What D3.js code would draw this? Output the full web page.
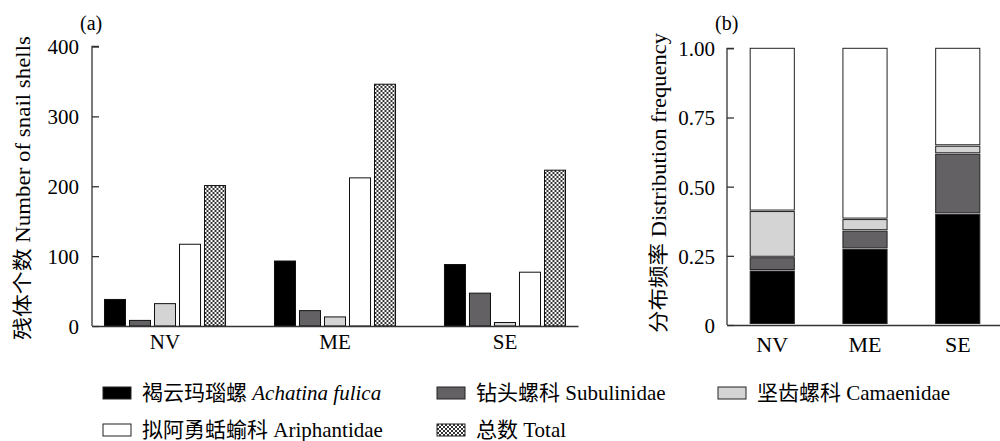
<!DOCTYPE html>
<html>
<head>
<meta charset="utf-8">
<script src="https://cdn.jsdelivr.net/npm/d3@7"></script>
<style>
  body { margin: 0; background: #fff; }
  text { font-family: "Liberation Serif", "Noto Sans CJK SC", serif; fill: #000; }
</style>
</head>
<body>
<div id="chart"></div>
<script>
// Sites (x categories)
const sites = ["NV", "ME", "SE"];
// Series (legend order)
const seriesKeys = ["fulica", "subulinidae", "camaenidae", "ariphantidae", "total"];
const seriesCn = ["褐云玛瑙螺 ", "钻头螺科 ", "坚齿螺科 ", "拟阿勇蛞蝓科 ", "总数 "];
const seriesEn = ["Achatina fulica", "Subulinidae", "Camaenidae", "Ariphantidae", "Total"];

// Panel (a): number of snail shells per site
const countFulica = [38, 93, 88];
const countSubulinidae = [8, 22, 47];
const countCamaenidae = [32, 13, 5];
const countAriphantidae = [117, 212, 77];
const countTotal = [201, 346, 223];

// Panel (b): distribution frequency of each family (stacked)
const freqFulica = [0.195, 0.273, 0.400];
const freqSubulinidae = [0.048, 0.066, 0.217];
const freqCamaenidae = [0.167, 0.042, 0.029];
const freqAriphantidae = [0.590, 0.619, 0.354];

const yTicksA = [0, 100, 200, 300, 400];
const yTicksB = [0, 0.25, 0.5, 0.75, 1];

const fills = {
    fulica: "#000000",
    subulinidae: "#636163",
    camaenidae: "#d4d4d4",
    ariphantidae: "#ffffff",
    total: "url(#checker)"
};

const W = 1000, H = 441;
const FS = 20;
const svg = d3.select("#chart").append("svg")
    .attr("width", W)
    .attr("height", H);

// Checker pattern for the total bars
const defs = svg.append("defs");
const pat = defs.append("pattern")
    .attr("id", "checker")
    .attr("patternUnits", "userSpaceOnUse")
    .attr("width", 4).attr("height", 4);
pat.append("rect").attr("width", 4).attr("height", 4).attr("fill", "#fff");
pat.append("rect").attr("width", 2).attr("height", 2).attr("fill", "#333");
pat.append("rect").attr("x", 2).attr("y", 2).attr("width", 2).attr("height", 2).attr("fill", "#333");

const axisColor = "#333";

// ---------- Panel (a) ----------
const countData = sites.map((s, i) => ({
    site: s,
    fulica: countFulica[i],
    subulinidae: countSubulinidae[i],
    camaenidae: countCamaenidae[i],
    ariphantidae: countAriphantidae[i],
    total: countTotal[i]
}));

const xA = d3.scaleBand().domain(sites).range([92, 578])
    .paddingInner(0.288).paddingOuter(0.0735);
const xAInner = d3.scaleBand().domain(seriesKeys).range([0, xA.bandwidth()])
    .paddingInner(0.16).paddingOuter(0);
const yA = d3.scaleLinear().domain([0, 400]).range([326, 46.5]);

const gA = svg.append("g");

gA.selectAll("g.group").data(countData).join("g")
    .attr("class", "group")
    .attr("transform", d => `translate(${xA(d.site)},0)`)
    .selectAll("rect")
    .data(d => seriesKeys.map(k => ({ key: k, value: d[k] })))
    .join("rect")
    .attr("x", d => xAInner(d.key))
    .attr("width", xAInner.bandwidth())
    .attr("y", d => yA(d.value))
    .attr("height", d => yA(0) - yA(d.value))
    .attr("fill", d => fills[d.key])
    .attr("stroke", "#111")
    .attr("stroke-width", 1);

// y axis (ticks point inward)
const axisA = gA.append("g")
    .attr("transform", "translate(92,0)")
    .call(d3.axisRight(yA).tickValues(yTicksA).tickSize(7).tickFormat(d3.format("d")));
axisA.select(".domain").attr("d", `M7,${yA(400)}H0V${yA(0)}`);
axisA.selectAll("path, line").attr("stroke", axisColor).attr("stroke-width", 1.3);
axisA.selectAll("text")
    .attr("x", -13).attr("dy", "0.35em")
    .attr("text-anchor", "end")
    .style("font-size", (FS + 1) + "px");

// x axis
const xAxisA = gA.append("g")
    .attr("transform", `translate(0,${yA(0)})`)
    .call(d3.axisBottom(xA).tickSize(0).tickPadding(8));
xAxisA.select(".domain").attr("stroke", axisColor).attr("stroke-width", 1.3);
xAxisA.selectAll("text").style("font-size", (FS + 1) + "px");

gA.append("text")
    .attr("transform", "translate(30,188) rotate(-90)")
    .attr("text-anchor", "middle")
    .attr("textLength", 304)
    .attr("lengthAdjust", "spacingAndGlyphs")
    .style("font-size", FS + "px")
    .text("残体个数 Number of snail shells");

gA.append("text").attr("x", 80).attr("y", 30)
    .style("font-size", FS + "px").text("(a)");

// ---------- Panel (b) ----------
const freqData = sites.map((s, i) => ({
    site: s,
    fulica: freqFulica[i],
    subulinidae: freqSubulinidae[i],
    camaenidae: freqCamaenidae[i],
    ariphantidae: freqAriphantidae[i]
}));
const stackKeys = seriesKeys.slice(0, 4);
const stacked = d3.stack().keys(stackKeys)(freqData);

const xB = d3.scaleBand().domain(sites).range([727, 1003])
    .paddingInner(0.524).paddingOuter(0.25);
const yB = d3.scaleLinear().domain([0, 1]).range([325, 48.3]);

const gB = svg.append("g");

gB.selectAll("g.layer").data(stacked).join("g")
    .attr("class", "layer")
    .attr("fill", d => fills[d.key])
    .selectAll("rect")
    .data(d => d)
    .join("rect")
    .attr("x", d => xB(d.data.site))
    .attr("width", xB.bandwidth())
    .attr("y", d => yB(Math.min(d[1], 1)))
    .attr("height", d => Math.max(0, yB(d[0]) - yB(Math.min(d[1], 1)) - 1.5))
    .attr("stroke", "#222")
    .attr("stroke-width", 1);

const axisB = gB.append("g")
    .attr("transform", "translate(727,0)")
    .call(d3.axisRight(yB).tickValues(yTicksB).tickSize(7)
        .tickFormat(d => d === 0 ? "0" : d3.format(".2f")(d)));
axisB.select(".domain").attr("d", `M7,${yB(1)}H0V${yB(0)}`);
axisB.selectAll("path, line").attr("stroke", axisColor).attr("stroke-width", 1.3);
axisB.selectAll("text")
    .attr("x", -12).attr("dy", "0.35em")
    .attr("text-anchor", "end")
    .style("font-size", (FS + 1) + "px");

const xAxisB = gB.append("g")
    .attr("transform", `translate(0,${yB(0)})`)
    .call(d3.axisBottom(xB).tickSize(0).tickPadding(11));
xAxisB.select(".domain").attr("stroke", axisColor).attr("stroke-width", 1.3);
xAxisB.selectAll("text").style("font-size", (FS + 2) + "px");

gB.append("text")
    .attr("transform", "translate(666,183) rotate(-90)")
    .attr("text-anchor", "middle")
    .attr("textLength", 300)
    .attr("lengthAdjust", "spacingAndGlyphs")
    .style("font-size", FS + "px")
    .text("分布频率 Distribution frequency");

gB.append("text").attr("x", 715).attr("y", 30)
    .style("font-size", FS + "px").text("(b)");

// ---------- Legend ----------
const legendPos = [
    { x: 103, y: 387 }, { x: 437, y: 387 }, { x: 718, y: 387 },
    { x: 103, y: 424 }, { x: 437, y: 424 }
];
const legend = svg.append("g");
const items = legend.selectAll("g").data(seriesKeys).join("g")
    .attr("transform", (d, i) => `translate(${legendPos[i].x},${legendPos[i].y})`);
items.append("rect")
    .attr("width", 28).attr("height", 12)
    .attr("fill", d => fills[d])
    .attr("stroke", "#222").attr("stroke-width", 1);
const lt = items.append("text")
    .attr("x", 39).attr("y", 13)
    .style("font-size", (FS + 1) + "px");
lt.append("tspan").text((d, i) => seriesCn[i]);
lt.append("tspan")
    .style("font-style", (d, i) => i === 0 ? "italic" : "normal")
    .text((d, i) => seriesEn[i]);
</script>
</body>
</html>
